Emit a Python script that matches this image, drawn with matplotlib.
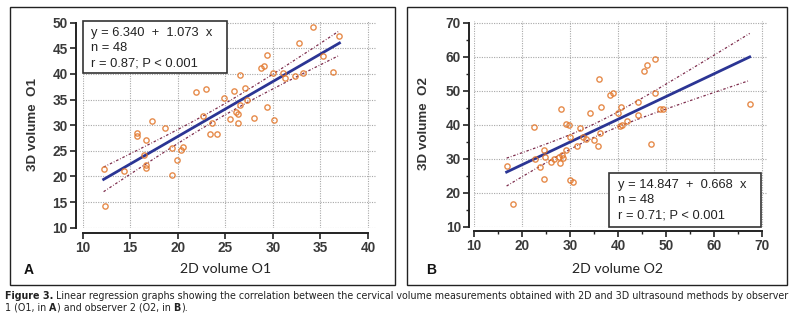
import matplotlib
matplotlib.use('Agg')
import matplotlib.pyplot as plt
from matplotlib.patches import Rectangle
import numpy as np

# observer 1 (panel A)
x1 = [34.25, 37.0, 32.7, 29.35, 35.3, 28.8, 29.1, 26.5, 30.05, 31.1, 31.3, 32.3,
      33.2, 36.3, 21.9, 23.0, 25.95, 27.05, 24.9, 26.55, 29.35, 26.1, 26.3, 25.5,
      26.3, 28.0, 30.1, 23.6, 17.3, 18.65, 15.7, 15.7, 16.7, 23.4, 24.1, 20.5,
      20.3, 19.4, 16.4, 19.9, 16.7, 16.7, 12.2, 14.3, 19.4, 12.3, 27.3, 22.6]
y1 = [49.1, 47.4, 46.1, 43.7, 43.5, 41.2, 41.5, 39.8, 40.2, 40.2, 39.3, 39.6,
      40.1, 40.4, 36.5, 37.0, 36.7, 37.2, 35.4, 33.9, 33.6, 32.5, 32.1, 31.3,
      30.5, 31.5, 31.0, 30.4, 30.9, 29.5, 28.4, 27.8, 27.2, 28.3, 28.3, 25.8,
      25.2, 25.5, 24.2, 23.2, 22.2, 21.6, 21.4, 21.1, 20.3, 14.2, 35.0, 31.8]
a1, b1 = 6.340, 1.073
stats1 = ['y = 6.340  +  1.073  x', 'n = 48', 'r = 0.87; P < 0.001']

# observer 2 (panel B)
x2 = [16.8, 18.2, 22.5, 24.5, 24.8, 22.7, 23.8, 24.6, 26.6, 28.0, 27.8, 28.5,
      28.3, 28.1, 29.2, 29.9, 29.2, 30.0, 30.7, 30.0, 31.4, 32.1, 32.7, 33.4,
      34.1, 36.1, 36.4, 35.9, 36.3, 38.4, 38.9, 40.1, 40.7, 40.8, 40.5, 44.3,
      44.3, 45.4, 46.1, 47.8, 47.8, 46.9, 48.8, 49.5, 67.5, 35.0, 42.0, 26.0]
y2 = [27.8, 16.7, 39.4, 32.5, 30.4, 29.8, 27.6, 23.9, 29.8, 28.6, 30.6, 30.1,
      31.1, 44.5, 40.2, 39.9, 32.5, 23.7, 23.2, 36.5, 33.7, 39.1, 36.5, 35.7,
      43.3, 53.3, 45.3, 33.7, 37.6, 48.7, 49.4, 43.5, 45.3, 39.9, 39.6, 46.8,
      43.0, 55.9, 57.5, 59.2, 49.2, 34.3, 44.5, 44.5, 46.0, 35.5, 41.0, 29.0]
a2, b2 = 14.847, 0.668
stats2 = ['y = 14.847  +  0.668  x', 'n = 48', 'r = 0.71; P < 0.001']

caption1 = [('Figure 3.', 'bold'),
            (' Linear regression graphs showing the correlation between the cervical volume '
             'measurements obtained with 2D and 3D ultrasound methods by observer', 'normal')]
caption2 = [('1 (O1, in ', 'normal'), ('A', 'bold'), (') and observer 2 (O2, in ', 'normal'),
            ('B', 'bold'), (').', 'normal')]

W, H = 794, 323
fig = plt.figure(figsize=(W / 100, H / 100), dpi=100)

tickfont = dict(family=['Liberation Sans', 'DejaVu Sans'], size=9.8, weight='bold')
ptcol = '#e2772c'
cicol = '#7d2c4c'
lncol = '#2b3594'


def panel(rect, x, y, a, b, xlim, ylim, xticks, yticks, xminor, yminor,
          stats, boxpos, xlab, ylab, letter, letterx, frame, offs):
    ax = fig.add_axes(rect)
    x = np.array(x)
    y = np.array(y)
    ax.set_xlim(*xlim)
    ax.set_ylim(*ylim)
    ax.set_xticks(xticks)
    ax.set_yticks(yticks)
    if xminor:
        ax.set_xticks(xminor, minor=True)
    if yminor:
        ax.set_yticks(yminor, minor=True)
    ax.grid(True, which='major', color='#a8a8a8', linestyle=(0, (1, 1.2)), lw=0.8)
    for s in ['top', 'right']:
        ax.spines[s].set_visible(False)
    ax.spines['left'].set_position(('outward', offs[0]))
    ax.spines['bottom'].set_position(('outward', offs[1]))
    ax.spines['left'].set_bounds(yticks[0], yticks[-1])
    ax.spines['bottom'].set_bounds(xticks[0], xticks[-1])
    for s in ['left', 'bottom']:
        ax.spines[s].set_linewidth(1.4)
        ax.spines[s].set_color('#222222')
    ax.tick_params(which='major', length=4, width=1.2, color='#222222', pad=2)
    ax.tick_params(which='minor', length=2.5, width=1.0, color='#222222')
    for lab in ax.get_xticklabels() + ax.get_yticklabels():
        lab.set_fontfamily(tickfont['family'])
        lab.set_fontsize(tickfont['size'])
        lab.set_fontweight(tickfont['weight'])
        lab.set_color('#3a3a3a')

    # confidence band of regression line
    n = len(x)
    res = y - (a + b * x)
    s = np.sqrt(np.sum(res ** 2) / (n - 2))
    xs = np.linspace(x.min(), x.max(), 100)
    sxx = np.sum((x - x.mean()) ** 2)
    half = 2.013 * s * np.sqrt(1 / n + (xs - x.mean()) ** 2 / sxx)
    fit = a + b * xs
    ax.plot(xs, fit + half, color=cicol, lw=0.9, ls=(0, (2, 1.5, 0.6, 1.5)))
    ax.plot(xs, fit - half, color=cicol, lw=0.9, ls=(0, (2, 1.5, 0.6, 1.5)))
    ax.plot(xs, fit, color=lncol, lw=2.0)
    ax.plot(x, y, 'o', ms=3.8, mfc='none', mec=ptcol, mew=1.0, alpha=0.85)

    # stats box
    bx, by, bw, bh = boxpos
    ax.add_patch(Rectangle((bx, by), bw, bh, transform=ax.transAxes, fc='white',
                           ec='#333333', lw=1.2, zorder=5, clip_on=False))
    for i, t in enumerate(stats):
        ax.text(bx + 0.03, by + bh - 0.055 - i * 0.075, t, transform=ax.transAxes,
                fontsize=9.3, family=['Liberation Sans', 'DejaVu Sans'], color='#222222',
                va='center', ha='left', zorder=6)

    cx = rect[0] + rect[2] * (xticks[-1] - xlim[0]) / (xlim[1] - xlim[0]) / 2
    fig.text(cx, 1 - 269 / H, xlab, ha='center', va='center', fontsize=10.2,
             family=['Lato', 'DejaVu Sans'], color='#222222')
    fig.text(rect[0] - 50 / W, rect[1] + rect[3] / 2, ylab, ha='center', va='center',
             rotation=90, fontsize=9.6, fontweight='bold',
             family=['Liberation Sans', 'DejaVu Sans'], color='#333333')
    fig.text(letterx, 1 - 270 / H, letter, ha='left', va='center', fontsize=10,
             fontweight='bold', family=['Liberation Sans', 'DejaVu Sans'], color='#111111')
    fig.patches.append(Rectangle((frame[0] / W, 1 - frame[3] / H), (frame[2] - frame[0]) / W,
                                 (frame[3] - frame[1]) / H, transform=fig.transFigure,
                                 fill=False, ec='#222222', lw=1.0))
    return ax


panel([82.7 / W, 1 - 227.7 / H, (375.6 - 82.7) / W, (227.7 - 21.2) / H],
      x1, y1, a1, b1, (10, 40.8), (10, 50.3), list(range(10, 41, 5)), list(range(10, 51, 5)),
      None, None, stats1, (0.0, 0.75, 0.494, 0.25), '2D volume O1', '3D volume  O1',
      'A', 24 / W, (10, 7, 395, 285), (4.8, 3.6))

panel([474 / W, 1 - 226.7 / H, (766.5 - 474) / W, (226.7 - 21.0) / H],
      x2, y2, a2, b2, (10, 71), (10, 70.5), list(range(10, 71, 10)), list(range(10, 71, 10)),
      list(range(15, 70, 10)), list(range(15, 70, 10)), stats2, (0.462, 0.0, 0.518, 0.26),
      '2D volume O2', '3D volume  O2', 'B', 426 / W, (407, 7, 787, 285), (3.4, 3.1))

# caption with bold runs
r = fig.canvas.get_renderer()


def runs(x, ypx, parts, size):
    for s, w in parts:
        t = fig.text(x, 1 - ypx / H, s, fontweight=w, fontsize=size, va='center', ha='left',
                     family=['DejaVu Sans'], fontstretch='condensed', color='#222222')
        bb = t.get_window_extent(renderer=r)
        x += bb.width / fig.bbox.width


runs(5 / W, 296, caption1, 7.65)
runs(5 / W, 308, caption2, 7.65)

fig.savefig('out.png', dpi=100)
